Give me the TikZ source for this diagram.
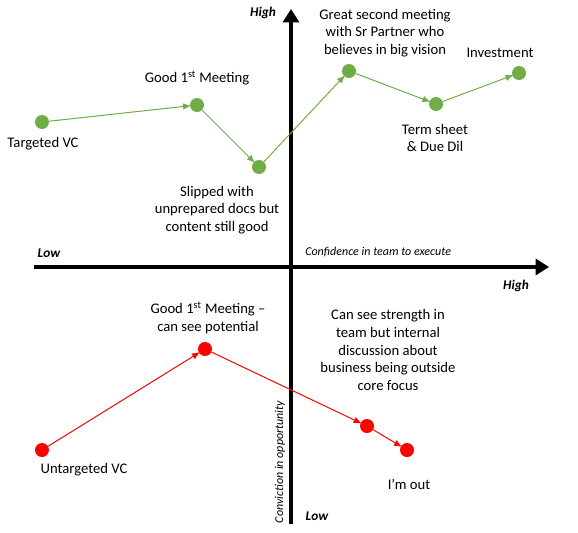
\documentclass[tikz,border=0pt]{standalone}
\usepackage{fontspec}
\setmainfont{Carlito}
\usetikzlibrary{arrows.meta}
\definecolor{vcgreen}{HTML}{70AD47}
\definecolor{vcred}{HTML}{FF0000}
\begin{document}
\begin{tikzpicture}[x=0.75pt,y=-0.75pt,
  gdot/.style={circle,fill=vcgreen,inner sep=0pt,minimum size=10.5pt},
  rdot/.style={circle,fill=vcred,inner sep=0pt,minimum size=10.5pt},
  garrow/.style={draw=vcgreen,line width=0.75pt,-{Latex[length=6pt,width=5pt]},shorten >=-1pt},
  rarrow/.style={draw=vcred,line width=0.75pt,-{Latex[length=6pt,width=5pt]},shorten >=-1pt},
  lbl/.style={font=\fontsize{11pt}{13.2pt}\selectfont,align=center,inner sep=0pt},
  axislbl/.style={font=\fontsize{10pt}{11pt}\selectfont\bfseries\itshape,inner sep=0pt},
  axistitle/.style={font=\fontsize{9pt}{10pt}\selectfont\itshape,inner sep=0pt},
  axis/.style={line width=3pt,-{Triangle[length=10pt,width=12pt]}}]
\useasboundingbox (0,0) rectangle (578,532);
% axes
\coordinate (vbot) at (291,524);
\coordinate (vtop) at (291,9);
\coordinate (hleft) at (34,267);
\coordinate (hright) at (549,267);
\draw[axis] (vbot) -- (vtop);
\draw[axis] (hleft) -- (hright);
\node[axislbl] (hiy) at (263,13) {High};
\node[axislbl] (loy) at (49,253) {Low};
\node[axislbl] (hix) at (516,286) {High};
\node[axislbl] (lox) at (317,516) {Low};
\node[axistitle,anchor=west] (xt) at (305,252) {Confidence in team to execute};
\node[axistitle,rotate=90] (yt) at (280,462) {Conviction in opportunity};
% green path
\node[gdot] (g1) at (42,122) {};
\node[gdot] (g2) at (197,105) {};
\node[gdot] (g3) at (259,167) {};
\node[gdot] (g4) at (349,71) {};
\node[gdot] (g5) at (436,104) {};
\node[gdot] (g6) at (519,73) {};
\draw[garrow] (g1) -- (g2);
\draw[garrow] (g2) -- (g3);
\draw[garrow] (g3) -- (g4);
\draw[garrow] (g4) -- (g5);
\draw[garrow] (g5) -- (g6);
\node[lbl] (l1) at (43,144) {Targeted VC};
\node[lbl] (l2) at (197,78) {Good 1\textsuperscript{st} Meeting};
\node[lbl] (l3) at (217,210) {Slipped with\\unprepared docs but\\content still good};
\node[lbl] (l4) at (385,33) {Great second meeting\\with Sr Partner who\\believes in big vision};
\node[lbl] (l5) at (435,138) {Term sheet\\\& Due Dil};
\node[lbl] (l6) at (500,53) {Investment};
% red path
\node[rdot] (r1) at (42,450) {};
\node[rdot] (r2) at (205,349) {};
\node[rdot] (r3) at (367,426) {};
\node[rdot] (r4) at (407,450) {};
\draw[rarrow] (r1) -- (r2);
\draw[rarrow] (r2) -- (r3);
\draw[rarrow] (r3) -- (r4);
\node[lbl] (m1) at (84,470) {Untargeted VC};
\node[lbl] (m2) at (208,318) {Good 1\textsuperscript{st} Meeting --\\can see potential};
\node[lbl] (m3) at (388,350) {Can see strength in\\team but internal\\discussion about\\business being outside\\core focus};
\node[lbl] (m4) at (409,484) {I’m out};
\end{tikzpicture}
\end{document}
